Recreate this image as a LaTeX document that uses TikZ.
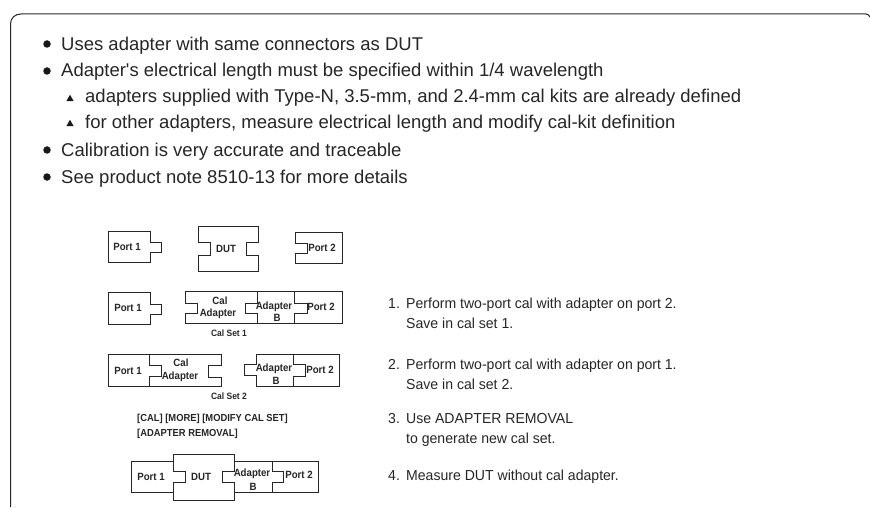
\documentclass[tikz,border=0pt]{standalone}
\usepackage{fontspec}
\setmainfont{Liberation Sans}
\newfontfamily\plainapos{Liberation Sans}
\usetikzlibrary{shapes.geometric}
\tikzset{
 x=1pt,y=-1pt,
 frameline/.style={draw=black!85,line width=1pt},
 shp/.style={draw=black!85,line width=0.7pt,line join=miter},
 big/.style={anchor=base west,inner sep=0pt,font=\fontsize{18.5}{21}\selectfont,text=black!85},
 steptext/.style={anchor=base west,inner sep=0pt,font=\fontsize{14.5}{17}\selectfont\addfontfeature{FakeStretch=0.97},text=black!85},
 lab/.style={inner sep=0pt,font=\fontsize{10.5}{12}\selectfont\bfseries\addfontfeature{FakeStretch=0.92},text=black!85},
 small/.style={inner sep=0pt,font=\fontsize{9.2}{11}\selectfont\bfseries\addfontfeature{FakeStretch=0.92},text=black!85},
 cmd/.style={anchor=base west,inner sep=0pt,font=\fontsize{10.2}{12}\selectfont\bfseries\addfontfeature{FakeStretch=0.92},text=black!85},
 dot/.style={circle,fill=black!90,inner sep=0pt,minimum size=7.5pt},
 tri/.style={regular polygon,regular polygon sides=3,fill=black!90,inner sep=0pt,minimum size=8.5pt},
}
\begin{document}
\begin{tikzpicture}
\useasboundingbox (0,0) rectangle (870,508);
\draw[frameline] (10.5,507) -- (10.5,24) .. controls (10.5,18) and (15,14) .. (21,14) -- (866,14) .. controls (868,14) and (869,15) .. (870,17);

\node[dot] (b1) at (47,44) {};
\node[big] (t1) at (61,50.5) {Uses adapter with same connectors as DUT};
\node[dot] (b2) at (47,71) {};
\node[big] (t2) at (61,77) {Adapter{\plainapos '}s electrical length must be specified within 1/4 wavelength};
\node[tri] (b3) at (70,99) {};
\node[big] (t3) at (85,103) {adapters supplied with Type-N, 3.5-mm, and 2.4-mm cal kits are already defined};
\node[tri] (b4) at (70,124) {};
\node[big] (t4) at (85,128.5) {for other adapters, measure electrical length and modify cal-kit definition};
\node[dot] (b5) at (47,150) {};
\node[big] (t5) at (61,156.5) {Calibration is very accurate and traceable};
\node[dot] (b6) at (47,177) {};
\node[big] (t6) at (61,183) {See product note 8510-13 for more details};

% row 1
\draw[shp] (108,231) -- (150,231) -- (150,242) -- (161,242) -- (161,252) -- (150,252) -- (150,262) -- (108,262) -- cycle;
\node[lab] (p1a) at (127,247) {Port 1};
\draw[shp] (198,226) -- (258,226) -- (258,242) -- (246,242) -- (246,255) -- (258,255) -- (258,271) -- (198,271) -- (198,255) -- (210,255) -- (210,242) -- (198,242) -- cycle;
\node[lab] (dut1) at (226,249) {DUT};
\draw[shp] (295,232) -- (342,232) -- (342,263) -- (295,263) -- (295,253) -- (307,253) -- (307,243) -- (295,243) -- cycle;
\node[lab] (p2a) at (322,248) {Port 2};

% row 2
\draw[shp] (108,292) -- (150,292) -- (150,304) -- (161,304) -- (161,314) -- (150,314) -- (150,324) -- (108,324) -- cycle;
\node[lab] (p1b) at (128,308) {Port 1};
\draw[shp] (185,291) -- (342,291) -- (342,323) -- (185,323) -- (185,313) -- (197,313) -- (197,303) -- (185,303) -- cycle;
\draw[shp] (257,291) -- (257,303) -- (245,303) -- (245,313) -- (257,313) -- (257,323);
\draw[shp] (294,291) -- (294,303) -- (307,303) -- (307,313) -- (294,313) -- (294,323);
\node[lab] (cal1) at (220,301) {Cal};
\node[lab] (cal1b) at (218,314) {Adapter};
\node[lab] (ab1) at (274,307) {Adapter};
\node[lab] (ab1b) at (277,318) {B};
\node[lab] (p2b) at (321,307) {Port 2};
\node[small] (cs1) at (229,333) {Cal Set 1};

% row 3
\draw[shp] (108,354) -- (221,354) -- (221,365) -- (208,365) -- (208,377) -- (221,377) -- (221,386) -- (108,386) -- cycle;
\draw[shp] (149,354) -- (149,365) -- (161,365) -- (161,376) -- (149,376) -- (149,386);
\node[lab] (p1c) at (128,371) {Port 1};
\node[lab] (cal2) at (181,363) {Cal};
\node[lab] (cal2b) at (180,377) {Adapter};
\draw[shp] (256,354) -- (339,354) -- (339,386) -- (256,386) -- (256,375) -- (244,375) -- (244,364) -- (256,364) -- cycle;
\draw[shp] (293,354) -- (293,364) -- (305,364) -- (305,376) -- (293,376) -- (293,386);
\node[lab] (ab2) at (274,369) {Adapter};
\node[lab] (ab2b) at (276,381) {B};
\node[lab] (p2c) at (320,370) {Port 2};
\node[small] (cs2) at (229,396) {Cal Set 2};

\node[cmd] (cmd1) at (137,421) {[CAL] [MORE] [MODIFY CAL SET]};
\node[cmd] (cmd2) at (137,436) {[ADAPTER REMOVAL]};

% row 4
\draw[shp] (131,461) -- (173,461) -- (173,454) -- (234,454) -- (234,461) -- (318,461) -- (318,492) -- (234,492) -- (234,500) -- (173,500) -- (173,492) -- (131,492) -- cycle;
\draw[shp] (173,461) -- (173,471) -- (185,471) -- (185,482) -- (173,482) -- (173,492);
\draw[shp] (234,461) -- (234,471) -- (222,471) -- (222,482) -- (234,482) -- (234,492);
\draw[shp] (272,461) -- (272,471) -- (283,471) -- (283,482) -- (272,482) -- (272,492);
\node[lab] (p1d) at (151,477) {Port 1};
\node[lab] (dut2) at (201,477) {DUT};
\node[lab] (ab3) at (252,474) {Adapter};
\node[lab] (ab3b) at (253,487) {B};
\node[lab] (p2d) at (299,475) {Port 2};

% steps
\node[steptext] (n1) at (388,308) {1.};
\node[steptext] (s1) at (406,308) {Perform two-port cal with adapter on port 2.};
\node[steptext] (s1b) at (406,328) {Save in cal set 1.};
\node[steptext] (n2) at (388,369) {2.};
\node[steptext] (s2) at (406,369) {Perform two-port cal with adapter on port 1.};
\node[steptext] (s2b) at (406,389) {Save in cal set 2.};
\node[steptext] (n3) at (388,423) {3.};
\node[steptext] (s3) at (406,423) {Use ADAPTER REMOVAL};
\node[steptext] (s3b) at (406,443) {to generate new cal set.};
\node[steptext] (n4) at (388,480) {4.};
\node[steptext] (s4) at (406,480) {Measure DUT without cal adapter.};
\end{tikzpicture}
\end{document}
